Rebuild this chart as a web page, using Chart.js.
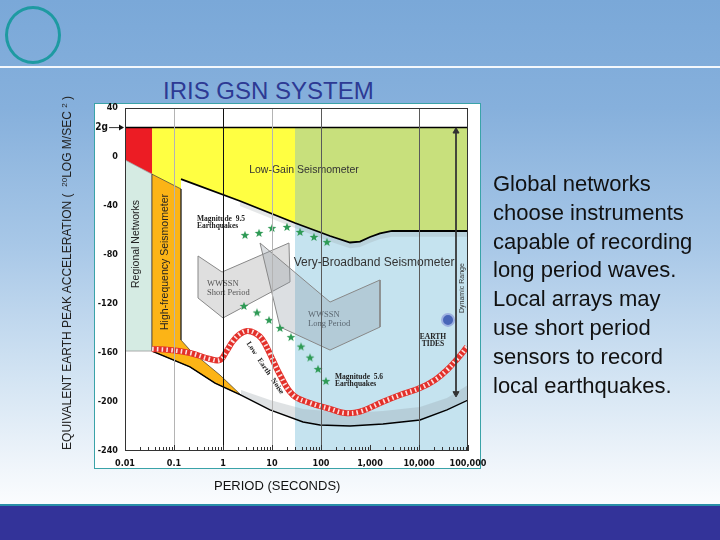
<!DOCTYPE html>
<html>
<head>
<meta charset="utf-8">
<script src="https://cdn.jsdelivr.net/npm/chart.js@4.4.1/dist/chart.umd.min.js"></script>
<style>
  body { margin: 0; }
  #slide {
    position: relative; width: 720px; height: 540px; overflow: hidden;
    font-family: "Liberation Sans", Arial, sans-serif;
    background: linear-gradient(to bottom, #7aa8d8 0%, #86b0dc 20%, #a7c7e7 45%, #d3e4f3 70%, #f1f6fb 87%, #fafcfe 93%);
  }
  .ring { position: absolute; left: 5px; top: 6px; width: 50px; height: 52px; border: 3px solid #1e9aa2; border-radius: 50%; }
  .rule { position: absolute; left: 0; top: 66px; width: 720px; height: 2px; background: #f4f8fc; }
  .title { position: absolute; left: 163px; top: 77px; font-size: 24px; line-height: 28px; color: #2d3a94; white-space: nowrap; }
  .panel { position: absolute; left: 94px; top: 103px; width: 385px; height: 364px; background: #fff; border: 1px solid #3aa3a8; }
  .ylabel {
    position: absolute; left: -115px; top: 265px; width: 360px; height: 16px; line-height: 16px;
    text-align: center; font-size: 12px; color: #222; white-space: nowrap; transform: rotate(-90deg);
  }
  .ylabel small { font-size: 8px; vertical-align: 4px; }
  .xlabel { position: absolute; left: 214px; top: 478px; font-size: 13px; color: #111; white-space: nowrap; }
  .note { position: absolute; left: 493px; top: 170px; font-size: 22px; line-height: 28.8px; color: #111; white-space: nowrap; }
  .footer { position: absolute; left: 0; top: 504px; width: 720px; height: 36px; background: #333399; border-top: 2px solid #2a8fa8; }
  canvas { position: absolute; left: 0; top: 0; }
</style>
</head>
<body>
<div id="slide">
  <div class="ring"></div>
  <div class="rule"></div>
  <div class="title">IRIS GSN SYSTEM</div>
  <div class="panel"></div>
  <canvas id="gsn-chart" width="720" height="540"></canvas>
  <div class="ylabel">EQUIVALENT EARTH PEAK ACCELERATION ( &nbsp;<small>20</small>LOG M/SEC <small>2</small> )</div>
  <div class="xlabel">PERIOD (SECONDS)</div>
  <div class="note">Global networks<br>choose instruments<br>capable of recording<br>long period waves.<br>Local arrays may<br>use short period<br>sensors to record<br>local earthquakes.</div>
  <div class="footer"></div>
</div>
<script>
// axes
const xTickValues = [0.01, 0.1, 1, 10, 100, 1000, 10000, 100000];
const xTickLabels = ["0.01", "0.1", "1", "10", "100", "1,000", "10,000", "100,000"];
const yTickValues = [40, 0, -40, -80, -120, -160, -200, -240];
const twoG = 24;

// instrument regions (period s, dB)
const redPeriod = [0.01, 0.0356, 0.0356, 0.01];
const redDb = [24, 24, -14, -2.4];
const regionalPeriod = [0.01, 0.0356, 0.0356, 0.01];
const regionalDb = [-2.4, -14, -158.4, -158.4];
const orangePeriod = [0.0356, 0.139, 0.139, 0.212, 0.391, 0.869, 2.33, 0.687, 0.212, 0.0356];
const orangeDb = [-14, -26.1, -149.4, -157.6, -166.5, -178, -194.3, -184.5, -171.4, -158.4];
const yellowPeriod = [0.0356, 29.5, 29.5, 2.22, 0.139, 0.139, 0.0356];
const yellowDb = [24, 24, -53.9, -35.9, -18, -26.1, -14];
const greenPeriod = [29.5, 100000, 100000, 2810, 1600, 1000, 625, 391, 153, 29.5];
const greenDb = [24, 24, -60.4, -60.4, -62.4, -65.3, -69, -69.8, -64.5, -53.9];
const bluePeriod = [29.5, 153, 391, 625, 1000, 1600, 2810, 100000, 100000, 29.5];
const blueDb = [-53.9, -64.5, -69.8, -69, -65.3, -62.4, -60.4, -60.4, -240, -240];
const shortPeriodPeriod = [0.309, 0.955, 22.2, 23.3, 1.0, 0.309];
const shortPeriodDb = [-80.8, -93.9, -70.2, -102, -131.4, -115.1];
const longPeriodPeriod = [5.69, 153, 1600, 1600, 153, 14.6];
const longPeriodDb = [-70.2, -118.4, -100.4, -138.8, -157.6, -138.8];

// curves
const clipLevelPeriod = [0.139, 2.22, 29.5, 153, 391, 625, 1000, 1600, 2810, 100000];
const clipLevelDb = [-18, -35.9, -53.9, -64.5, -69.8, -69, -65.3, -62.4, -60.4, -60.4];
const clipBandPeriod = [2.22, 29.5, 153, 391, 625, 1000, 1600, 2810, 100000, 100000, 2810, 1600, 1000, 625, 391, 153, 29.5, 2.22];
const clipBandDb = [-35.9, -53.9, -64.5, -69.8, -69, -65.3, -62.4, -60.4, -60.4, -65, -65, -67, -70, -73.5, -74.5, -69, -58, -40];
const lowNoisePeriod = [0.0356, 0.212, 0.687, 2.33, 9.1, 43, 95, 391, 1841, 10470, 37240, 100000];
const lowNoiseDb = [-158.4, -171.4, -184.5, -194.3, -206.5, -216.3, -218.8, -219.6, -218, -214.7, -206.5, -198.4];
const noiseBandPeriod = [2.33, 9.1, 43, 391, 1841, 10470, 37240, 100000, 100000, 37240, 10470, 1841, 391, 95, 43, 9.1, 2.33];
const noiseBandDb = [-190.2, -198.4, -205.7, -209, -207.4, -204.1, -196.7, -186.1, -198.4, -206.5, -214.7, -218, -219.6, -218.8, -216.3, -206.5, -194.3];
const highNoisePeriod = [0.0356, 0.0828, 0.212, 0.543, 0.869, 1.15, 1.6, 2.22, 3.09, 4.5, 6.25, 9.1, 14.6, 26.8, 59.7, 153, 309, 625, 1841, 4090, 10470, 21200, 37240, 62500, 95500];
const highNoiseDb = [-156.7, -157.6, -160, -164.9, -165.7, -159.2, -150.2, -144.5, -142, -143.7, -148.6, -160.8, -178, -194.3, -200.8, -205.7, -209, -207.9, -199.8, -194.3, -188.6, -182, -173.9, -164.1, -155.1];

// earthquakes and tides
const quake95Period = [2.81, 5.43, 10, 20.2, 37.3, 71.9, 132];
const quake95Db = [-63.7, -62, -58, -57.1, -61.2, -65.3, -69.4];
const quake56Period = [2.68, 4.94, 8.69, 14.6, 24.4, 39.1, 59.7, 86.9, 126];
const quake56Db = [-121.6, -126.9, -133.1, -139.6, -147, -154.7, -163.7, -173.1, -182.9];
const tidesPeriod = [39100];
const tidesDb = [-133];
const dynamicRangePeriod = [56900, 56900];
const dynamicRangeDb = [21, -193];

const serif = '"Liberation Serif", "DejaVu Serif", serif';
const sans = '"Liberation Sans", Arial, sans-serif';
const narrow = '"Liberation Sans Narrow", "DejaVu Sans Condensed", sans-serif';

const chartNotes = [
  { text: "Low-Gain Seismometer", x: 45, y: -10.6, font: `10.5px ${sans}`, color: "#333", align: "center" },
  { text: "Very-Broadband Seismometer", x: 1208, y: -86.5, font: `12px ${sans}`, color: "#333", align: "center" },
  { text: "Regional Networks", x: 0.0168, y: -71, font: `10.5px ${sans}`, color: "#222", align: "center", rotate: -90 },
  { text: "High-frequency Seismometer", x: 0.0655, y: -85.7, font: `10.5px ${sans}`, color: "#222", align: "center", rotate: -90 },
  { text: "Magnitude  9.5\nEarthquakes", x: 0.294, y: -50.6, font: `bold 7.5px ${serif}`, color: "#222", lh: 7 },
  { text: "Magnitude  5.6\nEarthquakes", x: 193, y: -179.6, font: `bold 7.5px ${serif}`, color: "#222", lh: 7 },
  { text: "WWSSN\nShort Period", x: 0.471, y: -103.7, font: `8.5px ${serif}`, color: "#555", lh: 8.5 },
  { text: "WWSSN\nLong Period", x: 54.3, y: -129, font: `8.5px ${serif}`, color: "#5a6670", lh: 8.5 },
  { text: "EARTH\nTIDES", x: 19300, y: -147, font: `bold 7.5px ${serif}`, color: "#222", align: "center", lh: 7 },
  { text: "Low   Earth   Noise", x: 7.2, y: -172.2, font: `bold 7.5px ${serif}`, color: "#222", align: "center", rotate: 56 },
  { text: "Dynamic Range", x: 75500, y: -107, font: `7px ${sans}`, color: "#333", align: "center", rotate: -90 }
];

function toPoints(periods, dbs) {
  return periods.map((p, i) => ({ x: p, y: dbs[i] }));
}

function area(periods, dbs, fillColor, lineColor, lineWidth) {
  const pts = toPoints(periods, dbs);
  pts.push(pts[0]);
  return {
    data: pts, showLine: true, fill: "shape", backgroundColor: fillColor,
    borderColor: lineColor || "rgba(0,0,0,0)", borderWidth: lineWidth || 0,
    pointRadius: 0, tension: 0
  };
}

function curve(periods, dbs, color, width, extra) {
  return Object.assign({
    data: toPoints(periods, dbs), showLine: true, fill: false, borderColor: color,
    borderWidth: width, pointRadius: 0, tension: 0
  }, extra || {});
}

function makeStar(color) {
  const c = document.createElement("canvas");
  c.width = 10; c.height = 10;
  const g = c.getContext("2d");
  g.fillStyle = color;
  g.beginPath();
  for (let i = 0; i < 10; i++) {
    const r = i % 2 ? 1.9 : 4.6;
    const a = -Math.PI / 2 + i * Math.PI / 5;
    g.lineTo(5 + r * Math.cos(a), 5.3 + r * Math.sin(a));
  }
  g.closePath();
  g.fill();
  return c;
}

function isDecade(v) {
  return xTickValues.some(d => Math.abs(v - d) / d < 1e-6);
}

function gridColor(v) {
  const e = Math.round(Math.log10(v));
  if (!isDecade(v)) return "rgba(0,0,0,0)";
  if (e === -1 || e === 1) return "#b4b4b4";
  if (e === 0) return "#111";
  if (e === 2 || e === 4) return "#5a5a5a";
  return "rgba(0,0,0,0)";
}

const star = makeStar("#2e9a55");

const notesPlugin = {
  id: "notes",
  afterDatasetsDraw(chart) {
    const { ctx, scales: { x, y } } = chart;
    chartNotes.forEach(n => {
      ctx.save();
      ctx.translate(x.getPixelForValue(n.x), y.getPixelForValue(n.y));
      if (n.rotate) ctx.rotate(n.rotate * Math.PI / 180);
      ctx.font = n.font;
      ctx.fillStyle = n.color;
      ctx.textAlign = n.align || "left";
      ctx.textBaseline = "middle";
      n.text.split("\n").forEach((t, i) => ctx.fillText(t, 0, i * (n.lh || 10)));
      ctx.restore();
    });
  },
  afterDraw(chart) {
    const { ctx, chartArea, scales: { x, y } } = chart;
    ctx.save();
    ctx.strokeStyle = "#333";
    ctx.lineWidth = 1;
    x.ticks.forEach(t => {
      const px = Math.round(x.getPixelForValue(t.value)) + 0.5;
      const len = isDecade(t.value) ? 6 : 4;
      ctx.beginPath();
      ctx.moveTo(px, chartArea.bottom);
      ctx.lineTo(px, chartArea.bottom - len);
      ctx.stroke();
    });
    ctx.strokeRect(chartArea.left + 0.5, chartArea.top + 0.5, chartArea.width - 1, chartArea.height - 1);
    // 2g marker
    const gy = y.getPixelForValue(twoG);
    ctx.fillStyle = "#111";
    ctx.font = `bold 10px ${narrow}`;
    ctx.textAlign = "right";
    ctx.textBaseline = "middle";
    ctx.fillText("2g", chartArea.left - 17, gy);
    ctx.beginPath();
    ctx.moveTo(chartArea.left - 16, gy);
    ctx.lineTo(chartArea.left - 2, gy);
    ctx.stroke();
    ctx.beginPath();
    ctx.moveTo(chartArea.left - 1, gy);
    ctx.lineTo(chartArea.left - 6, gy - 3);
    ctx.lineTo(chartArea.left - 6, gy + 3);
    ctx.closePath();
    ctx.fill();
    ctx.restore();
  }
};

const layers = [
  area(bluePeriod, blueDb, "#c5e3ef"),
  area(greenPeriod, greenDb, "#c8e07c"),
  area(yellowPeriod, yellowDb, "#ffff42"),
  area(redPeriod, redDb, "#ec1c24"),
  area(regionalPeriod, regionalDb, "#d5ebe3", "#9a9a9a", 0.8),
  area(orangePeriod, orangeDb, "#fcb416", "rgba(40,40,40,0.8)", 0.8),
  area(clipBandPeriod, clipBandDb, "rgba(150,158,165,0.25)"),
  area(noiseBandPeriod, noiseBandDb, "rgba(150,158,165,0.3)"),
  area(shortPeriodPeriod, shortPeriodDb, "rgba(150,150,150,0.3)", "#888", 1),
  area(longPeriodPeriod, longPeriodDb, "rgba(140,150,160,0.3)", "#888", 1),
  curve(clipLevelPeriod, clipLevelDb, "#000", 1.8),
  curve(lowNoisePeriod, lowNoiseDb, "#000", 1.4),
  curve([0.01, 100000], [twoG, twoG], "#000", 1.5),
  curve(highNoisePeriod, highNoiseDb, "#e3302a", 6, { tension: 0.4 }),
  curve(highNoisePeriod, highNoiseDb, "rgba(255,255,255,0.85)", 4.5, { tension: 0.4, borderDash: [1.6, 3.2] }),
  { data: toPoints(quake95Period, quake95Db), pointStyle: star, pointRadius: 5 },
  { data: toPoints(quake56Period, quake56Db), pointStyle: star, pointRadius: 5 },
  { data: toPoints(tidesPeriod, tidesDb), pointStyle: "circle", pointRadius: 6, backgroundColor: "#4866b8", borderColor: "#9cb0e0", borderWidth: 2 },
  curve(dynamicRangePeriod, dynamicRangeDb, "#333", 1, {
    pointStyle: "triangle", pointRadius: 3.5, pointRotation: [0, 180],
    pointBackgroundColor: "#333", pointBorderColor: "#333"
  })
];
layers.forEach((d, i) => { d.order = layers.length - i; });

new Chart(document.getElementById("gsn-chart"), {
  type: "scatter",
  data: { datasets: layers },
  options: {
    responsive: false,
    animation: false,
    events: [],
    layout: { padding: { top: 108, right: 252, bottom: 0, left: 0 } },
    plugins: { legend: { display: false }, tooltip: { enabled: false } },
    scales: {
      x: {
        type: "logarithmic",
        position: "bottom",
        min: 0.01,
        max: 100000,
        afterFit: s => { s.height = 89; },
        afterBuildTicks: s => {
          const ticks = [];
          xTickValues.forEach((d, i) => {
            ticks.push({ value: d });
            if (i < xTickValues.length - 1) {
              for (let k = 2; k <= 9; k++) ticks.push({ value: d * k });
            }
          });
          s.ticks = ticks;
        },
        border: { display: false },
        grid: { z: 1, drawTicks: false, lineWidth: 1, color: c => c.tick ? gridColor(c.tick.value) : "rgba(0,0,0,0)" },
        ticks: {
          autoSkip: false, maxRotation: 0, padding: 7, color: "#111",
          font: { family: narrow, size: 9, weight: "bold" },
          callback: v => {
            const i = xTickValues.findIndex(d => Math.abs(v - d) / d < 1e-6);
            return i >= 0 ? xTickLabels[i] : "";
          }
        }
      },
      y: {
        type: "linear",
        min: yTickValues[yTickValues.length - 1],
        max: yTickValues[0],
        afterFit: s => { s.width = 125; },
        afterBuildTicks: s => { s.ticks = yTickValues.map(v => ({ value: v })); },
        border: { display: false },
        grid: { display: false, drawTicks: false },
        ticks: {
          padding: 7, color: "#111",
          font: { family: narrow, size: 9, weight: "bold" },
          callback: v => String(v)
        }
      }
    }
  },
  plugins: [notesPlugin]
});
</script>
</body>
</html>
